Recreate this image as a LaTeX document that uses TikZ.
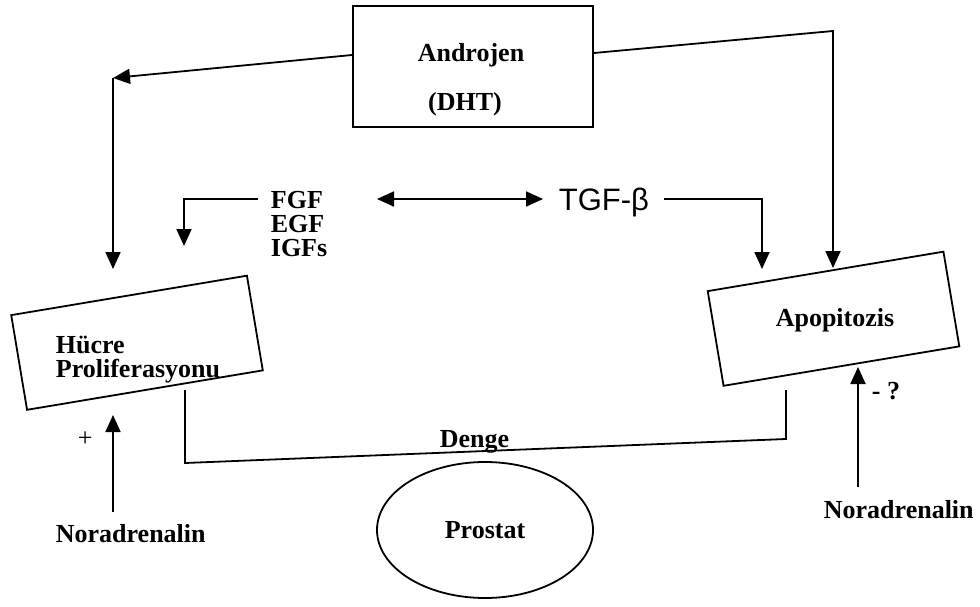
\documentclass[tikz,border=0pt]{standalone}
\usepackage{fontspec}
\setmainfont{Liberation Serif}
\newfontfamily\arialfont{Liberation Sans}
\usetikzlibrary{arrows.meta,shapes.geometric}

\begin{document}
\begin{tikzpicture}[x=1pt, y=-1pt, >={Triangle[length=17pt,width=15pt]}, line width=1.8pt,
  every node/.style={inner sep=0pt, font=\fontsize{26}{24}\selectfont\bfseries},
  kutu/.style={draw, minimum width=239pt, minimum height=96pt, rotate=9.5}]
  \useasboundingbox (0,0) rectangle (980,607);

  % 1. Kutular ve yazilar
  \node[draw, minimum width=240pt, minimum height=121pt] (andro) at (473,66.5) {};
  \node[anchor=base] (androYazi) at (471,62) {Androjen};
  \node[anchor=base] (dht) at (465,111) {(DHT)};

  \node[kutu] (hucre) at (137,342.75) {};
  \node[anchor=north west, align=left] (hucreYazi) at (55,335) {Hücre\\Proliferasyonu};

  \node[kutu] (apo) at (833.5,318.75) {};
  \node[anchor=base] (apoYazi) at (835,326) {Apopitozis};

  \node[draw, ellipse, minimum width=216pt, minimum height=136pt] (prostat) at (485,530) {Prostat};

  \node[anchor=north west, align=left] (fgf) at (270,190) {FGF\\EGF\\IGFs};
  \node[anchor=base west, font=\fontsize{31}{31}\selectfont\arialfont] (tgf) at (558,210) {TGF-β};

  \node[anchor=base west] (nor1) at (55,542) {Noradrenalin};
  \node[anchor=base west] (nor2) at (823,518) {Noradrenalin};
  \node[anchor=base west, font=\fontsize{26}{24}\selectfont] (arti) at (77,446) {+};
  \node[anchor=base west] (eksi) at (871,399) {- ?};
  \node[anchor=base west] (denge) at (439,447) {Denge};

  % 2. Ok uclari
  \coordinate (solKose) at (113,78);
  \coordinate (hucreUst) at (113,269);
  \coordinate (sagKose) at (833,31);
  \coordinate (apoUst) at (833,268);
  \coordinate (fgfSol) at (258,199);
  \coordinate (fgfOk) at (184,246);
  \coordinate (ciftSol) at (377,199);
  \coordinate (ciftSag) at (543,199);
  \coordinate (tgfSag) at (664,199);
  \coordinate (tgfOk) at (762,269);
  \coordinate (nor1Ust) at (113,512);
  \coordinate (hucreAlt) at (113,415);
  \coordinate (nor2Ust) at (858,487);
  \coordinate (apoAlt) at (858,367);
  \coordinate (dengeSol) at (185,390);
  \coordinate (dengeSag) at (786,390);

  % 3. Oklar
  \draw[->] ([yshift=11.5pt]andro.west) -- (solKose);
  \draw[->] (solKose) -- (hucreUst);
  \draw[->] ([yshift=13.5pt]andro.east) -- (sagKose) -- (apoUst);
  \draw[->] (fgfSol) -| (fgfOk);
  \draw[<->] (ciftSol) -- (ciftSag);
  \draw[->] (tgfSag) -| (tgfOk);
  \draw[->] (nor1Ust) -- (hucreAlt);
  \draw[->] (nor2Ust) -- (apoAlt);

  % 4. Denge cizgisi
  \draw (dengeSol) -- (185,463) -- (786,439) -- (dengeSag);
\end{tikzpicture}
\end{document}
